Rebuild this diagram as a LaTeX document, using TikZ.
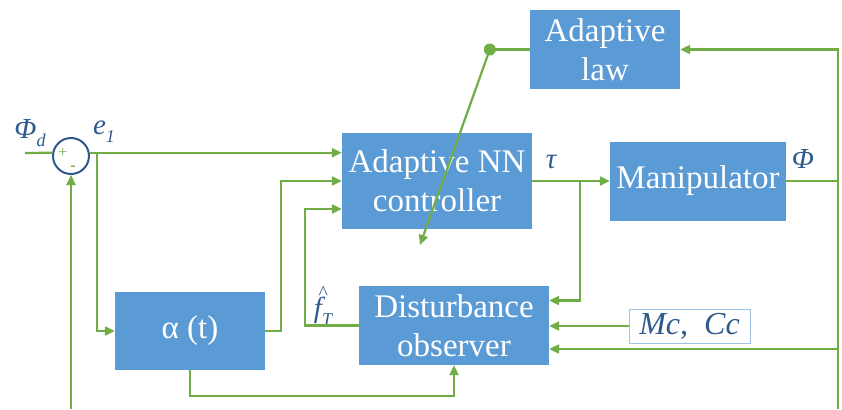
\documentclass[tikz,border=0pt]{standalone}
\usepackage{fontspec}
\setmainfont{Liberation Serif}
\usetikzlibrary{arrows.meta,calc}
\definecolor{boxblue}{HTML}{5B9BD5}
\definecolor{wirecol}{HTML}{70AD47}
\definecolor{ink}{HTML}{2F5B8C}
\definecolor{framecol}{HTML}{9DC3E6}
% lowered subscript in text mode
\newcommand{\lowsub}[1]{\raisebox{-0.28em}{\fontsize{18}{18}\selectfont #1}}
% small circumflex set high above a tall letter
\newcommand{\highhat}{\rlap{\hspace{0.16em}\raisebox{0.62em}{\upshape\fontsize{20}{20}\selectfont\^{}}}}
\tikzset{
  block/.style={fill=boxblue, text=white, align=center, inner sep=0pt,
    font=\fontsize{33}{39}\selectfont},
  wire/.style={draw=wirecol, line width=2.2pt},
  feed/.style={wire, -{Triangle[length=10pt,width=9pt]}},
  sig/.style={text=ink, inner sep=0pt, font=\itshape\fontsize{29}{30}\selectfont},
}
\begin{document}
\begin{tikzpicture}[x=1pt,y=-1pt]
  \fill[white] (0,0) rectangle (842,409);
  \useasboundingbox (0,0) rectangle (842,409);

  % blocks
  \node[block, minimum width=150pt, minimum height=79pt] (law) at (605,49.5) {Adaptive\\law};
  \node[block, minimum width=190pt, minimum height=96pt] (ctrl) at (437,181) {Adaptive NN\\controller};
  \node[block, minimum width=176pt, minimum height=79pt] (manip) at (698,181) {Manipulator};
  \node[block, minimum width=190pt, minimum height=79pt] (obs) at (454,325.5) {Disturbance\\observer};
  \node[block, minimum width=150pt, minimum height=78pt] (alpha) at (190,331) {α (t)};
  \node[draw=framecol, line width=1pt, fill=white, text=ink, inner sep=0pt,
        minimum width=121pt, minimum height=34pt,
        font=\itshape\fontsize{32}{34}\selectfont] (mc) at (689.5,326) {Mc,\ \ Cc};

  % summing junction
  \node[circle, draw=ink, line width=2pt, fill=white, minimum size=36pt, inner sep=0pt] (sum) at (71,156) {};
  \node[text=wirecol, inner sep=0pt, font=\fontsize{16}{16}\selectfont] (plus) at (63,153) {+};
  \node[text=wirecol, inner sep=0pt, font=\bfseries\fontsize{16}{16}\selectfont] (minus) at (73,168) {-};

  % signal labels
  \node[sig] (phid) at (30,133) {Φ\lowsub{d}};
  \node[sig] (e1) at (104,132) {e\lowsub{1}};
  \node[sig] (tau) at (551,162) {τ};
  \node[sig] (phi) at (803,159) {Φ};
  \node[sig] (fT) at (323,306) {\highhat f\lowsub{T}};

  % free ends and branch points
  \coordinate (in) at (25,153);
  \coordinate (fbleft) at (71,409);
  \coordinate (ebr) at (97,153);
  \coordinate (taubr) at (580,181);
  \coordinate (phibr) at (838,181);
  \coordinate (phibot) at (838,409);
  \coordinate (nntip) at (420,245);

  % forward path
  \draw[wire] (in) -- (sum.170);
  \draw[feed] (sum.10) -- (sum.10 -| ctrl.west);
  \draw[feed] (ebr) |- (alpha.west);
  \draw[feed] (alpha.east) -- ++(16,0) |- (ctrl.west);
  \draw[feed] (obs.west) -- ++(-54,0) |- ([yshift=-28pt]ctrl.west);
  \draw[feed] (alpha.south) -- ++(0,26) -| (obs.south);
  \draw[feed] (ctrl.east) -- (manip.west);
  \draw[feed] (taubr) |- ([yshift=25pt]obs.east);
  \draw[feed] (mc.west) -- (mc.west -| obs.east);

  % output feedback
  \draw[wire] (manip.east) -- (phibr);
  \draw[feed] (phibot) -- (phibot |- law.east) -- (law.east);
  \draw[feed] (phibot |- 0,349) -- (obs.east |- 0,349);
  \draw[feed] (fbleft) -- (sum.south);

  % adaptive law output
  \draw[wire] (law.west) -- ++(-40,0) coordinate (dot);
  \fill[wirecol] (dot) circle (6pt);
  \draw[feed] (dot) -- (nntip);
\end{tikzpicture}
\end{document}
